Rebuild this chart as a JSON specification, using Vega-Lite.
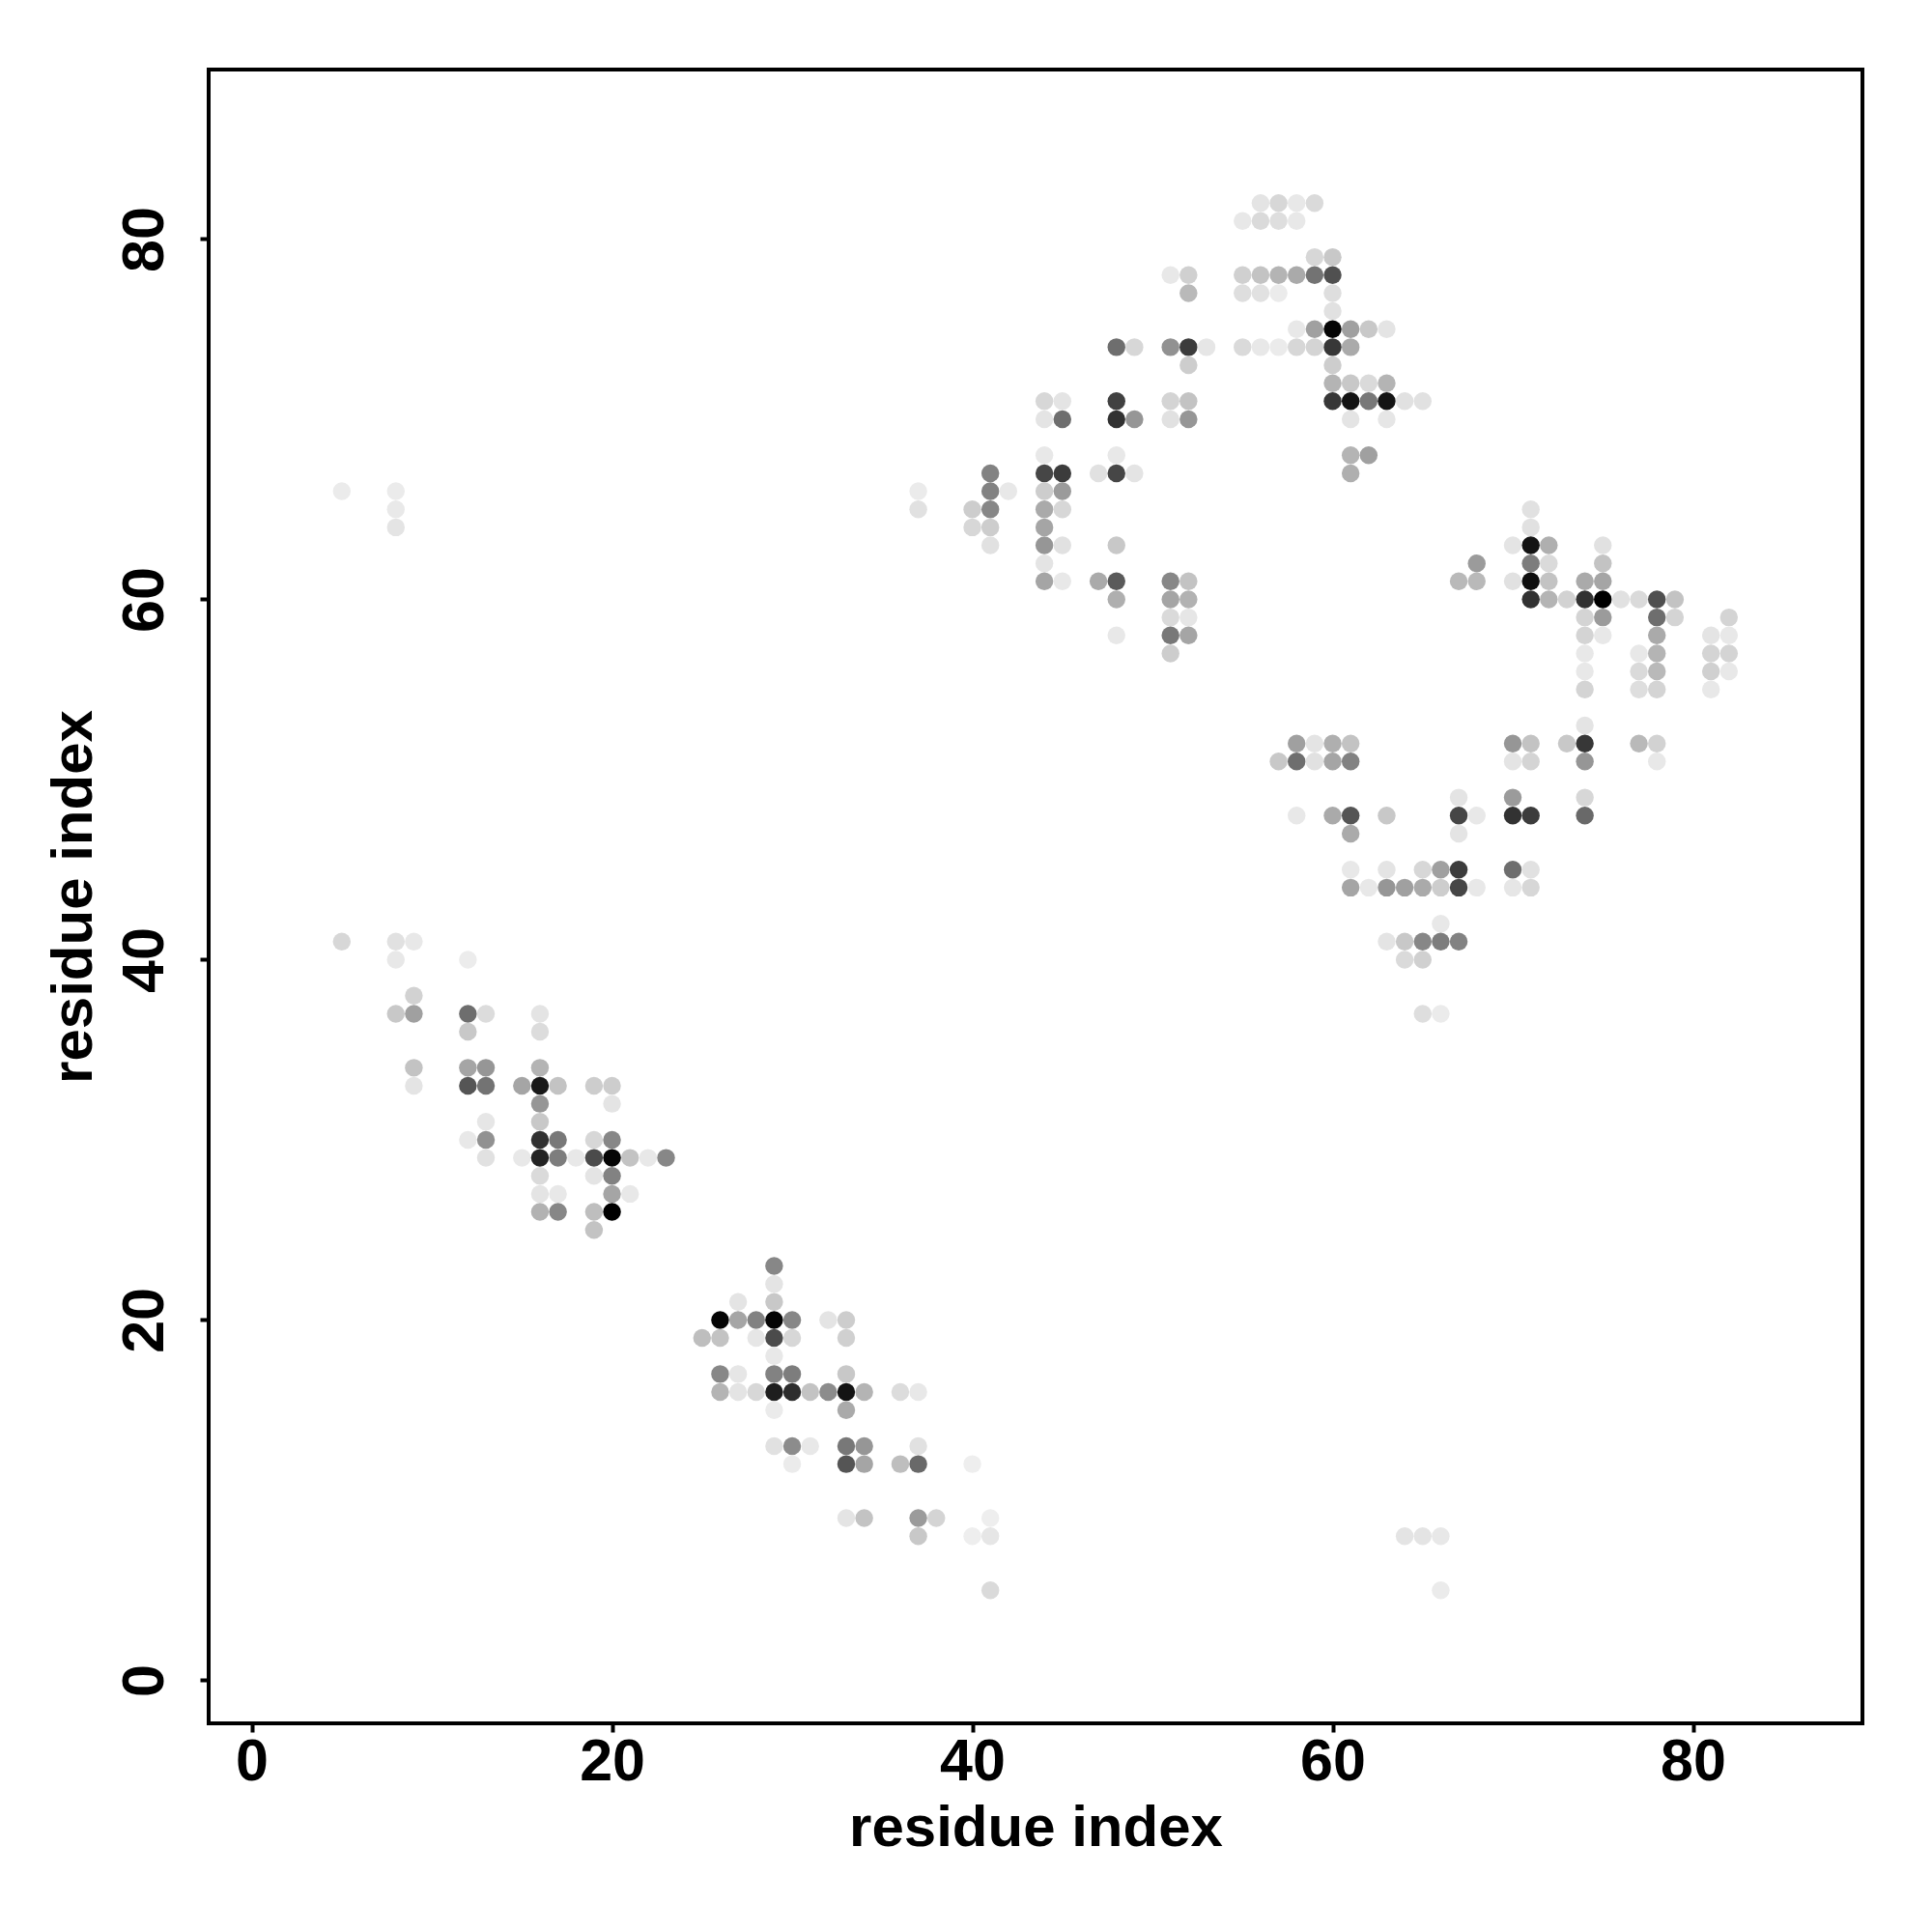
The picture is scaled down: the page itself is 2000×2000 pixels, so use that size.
{"$schema":"https://vega.github.io/schema/vega-lite/v6.json","width":1712,"height":1712,"autosize":{"type":"none"},"padding":{"left":216,"top":72,"right":72,"bottom":216},"background":"white","view":{"stroke":"#000","strokeWidth":4,"fill":"white"},"data":{"values":[
{"i":5,"j":41,"g":215},{"i":8,"j":41,"g":225},{"i":9,"j":41,"g":232},{"i":8,"j":40,"g":232},{"i":12,"j":40,"g":236},{"i":9,"j":38,"g":210},{"i":8,"j":37,"g":200},{"i":9,"j":37,"g":160},{"i":12,"j":37,"g":110},{"i":13,"j":37,"g":220},{"i":12,"j":36,"g":200},{"i":16,"j":37,"g":228},{"i":16,"j":36,"g":220},{"i":9,"j":34,"g":195},{"i":12,"j":34,"g":165},{"i":13,"j":34,"g":150},{"i":16,"j":34,"g":180},{"i":9,"j":33,"g":228},{"i":12,"j":33,"g":85},{"i":13,"j":33,"g":115},{"i":15,"j":33,"g":165},{"i":16,"j":33,"g":25},{"i":17,"j":33,"g":195},{"i":19,"j":33,"g":205},{"i":20,"j":33,"g":205},{"i":16,"j":32,"g":150},{"i":20,"j":32,"g":228},{"i":13,"j":31,"g":230},{"i":16,"j":31,"g":200},{"i":12,"j":30,"g":232},{"i":13,"j":30,"g":145},{"i":16,"j":30,"g":50},{"i":17,"j":30,"g":120},{"i":19,"j":30,"g":215},{"i":20,"j":30,"g":135},{"i":13,"j":29,"g":225},{"i":15,"j":29,"g":232},{"i":16,"j":29,"g":35},{"i":17,"j":29,"g":125},{"i":18,"j":29,"g":232},{"i":19,"j":29,"g":75},{"i":20,"j":29,"g":5},{"i":21,"j":29,"g":195},{"i":22,"j":29,"g":232},{"i":23,"j":29,"g":135},{"i":16,"j":28,"g":218},{"i":19,"j":28,"g":228},{"i":20,"j":28,"g":130},{"i":16,"j":27,"g":228},{"i":17,"j":27,"g":232},{"i":20,"j":27,"g":165},{"i":21,"j":27,"g":232},{"i":16,"j":26,"g":178},{"i":17,"j":26,"g":135},{"i":19,"j":26,"g":190},{"i":20,"j":26,"g":0},{"i":19,"j":25,"g":195},
{"i":29,"j":23,"g":135},{"i":29,"j":22,"g":228},{"i":27,"j":21,"g":228},{"i":29,"j":21,"g":200},{"i":26,"j":20,"g":5},{"i":27,"j":20,"g":165},{"i":28,"j":20,"g":130},{"i":29,"j":20,"g":5},{"i":30,"j":20,"g":135},{"i":32,"j":20,"g":228},{"i":33,"j":20,"g":205},{"i":25,"j":19,"g":190},{"i":26,"j":19,"g":195},{"i":28,"j":19,"g":230},{"i":29,"j":19,"g":75},{"i":30,"j":19,"g":215},{"i":33,"j":19,"g":208},{"i":29,"j":18,"g":232},{"i":26,"j":17,"g":135},{"i":27,"j":17,"g":230},{"i":29,"j":17,"g":130},{"i":30,"j":17,"g":125},{"i":33,"j":17,"g":200},{"i":26,"j":16,"g":180},{"i":27,"j":16,"g":228},{"i":28,"j":16,"g":215},{"i":29,"j":16,"g":30},{"i":30,"j":16,"g":45},{"i":31,"j":16,"g":195},{"i":32,"j":16,"g":140},{"i":33,"j":16,"g":20},{"i":34,"j":16,"g":180},{"i":36,"j":16,"g":220},{"i":37,"j":16,"g":232},{"i":29,"j":15,"g":235},{"i":33,"j":15,"g":170},{"i":29,"j":13,"g":225},{"i":30,"j":13,"g":140},{"i":31,"j":13,"g":232},{"i":33,"j":13,"g":120},{"i":34,"j":13,"g":150},{"i":37,"j":13,"g":225},{"i":30,"j":12,"g":235},{"i":33,"j":12,"g":85},{"i":34,"j":12,"g":165},{"i":36,"j":12,"g":190},{"i":37,"j":12,"g":105},{"i":40,"j":12,"g":238},{"i":33,"j":9,"g":228},{"i":34,"j":9,"g":195},{"i":37,"j":9,"g":155},{"i":38,"j":9,"g":212},{"i":41,"j":9,"g":238},{"i":37,"j":8,"g":200},{"i":40,"j":8,"g":238},{"i":41,"j":8,"g":230},{"i":41,"j":5,"g":218},{"i":64,"j":8,"g":228},{"i":65,"j":8,"g":228},{"i":66,"j":8,"g":232},{"i":66,"j":5,"g":235},
{"i":5,"j":66,"g":235},{"i":8,"j":66,"g":235},{"i":8,"j":65,"g":233},{"i":8,"j":64,"g":228},
{"i":44,"j":71,"g":215},{"i":45,"j":71,"g":228},{"i":48,"j":71,"g":65},{"i":51,"j":71,"g":212},{"i":52,"j":71,"g":195},{"i":44,"j":70,"g":228},{"i":45,"j":70,"g":110},{"i":48,"j":70,"g":50},{"i":49,"j":70,"g":150},{"i":51,"j":70,"g":225},{"i":52,"j":70,"g":150},{"i":44,"j":68,"g":232},{"i":48,"j":68,"g":232},{"i":41,"j":67,"g":130},{"i":44,"j":67,"g":70},{"i":45,"j":67,"g":60},{"i":47,"j":67,"g":225},{"i":48,"j":67,"g":70},{"i":49,"j":67,"g":228},{"i":37,"j":66,"g":235},{"i":41,"j":66,"g":130},{"i":42,"j":66,"g":232},{"i":44,"j":66,"g":205},{"i":45,"j":66,"g":155},{"i":37,"j":65,"g":225},{"i":40,"j":65,"g":205},{"i":41,"j":65,"g":135},{"i":44,"j":65,"g":170},{"i":45,"j":65,"g":215},{"i":40,"j":64,"g":215},{"i":41,"j":64,"g":205},{"i":44,"j":64,"g":165},{"i":41,"j":63,"g":225},{"i":44,"j":63,"g":150},{"i":45,"j":63,"g":225},{"i":48,"j":63,"g":200},{"i":44,"j":62,"g":228},{"i":44,"j":61,"g":165},{"i":45,"j":61,"g":232},{"i":47,"j":61,"g":170},{"i":48,"j":61,"g":90},{"i":51,"j":61,"g":135},{"i":52,"j":61,"g":195},{"i":48,"j":60,"g":175},{"i":51,"j":60,"g":165},{"i":52,"j":60,"g":178},{"i":51,"j":59,"g":218},{"i":52,"j":59,"g":230},{"i":48,"j":58,"g":232},{"i":51,"j":58,"g":120},{"i":52,"j":58,"g":165},{"i":51,"j":57,"g":205},
{"i":51,"j":78,"g":232},{"i":52,"j":78,"g":208},{"i":52,"j":77,"g":185},{"i":48,"j":74,"g":110},{"i":49,"j":74,"g":215},{"i":51,"j":74,"g":145},{"i":52,"j":74,"g":60},{"i":53,"j":74,"g":230},{"i":52,"j":73,"g":205},
{"i":56,"j":82,"g":228},{"i":57,"j":82,"g":215},{"i":58,"j":82,"g":232},{"i":59,"j":82,"g":218},{"i":55,"j":81,"g":232},{"i":56,"j":81,"g":218},{"i":57,"j":81,"g":222},{"i":58,"j":81,"g":232},{"i":59,"j":79,"g":215},{"i":60,"j":79,"g":200},{"i":55,"j":78,"g":208},{"i":56,"j":78,"g":195},{"i":57,"j":78,"g":180},{"i":58,"j":78,"g":170},{"i":59,"j":78,"g":115},{"i":60,"j":78,"g":80},{"i":55,"j":77,"g":222},{"i":56,"j":77,"g":225},{"i":57,"j":77,"g":235},{"i":60,"j":77,"g":222},{"i":60,"j":76,"g":225},{"i":58,"j":75,"g":232},{"i":59,"j":75,"g":160},{"i":60,"j":75,"g":5},{"i":61,"j":75,"g":160},{"i":62,"j":75,"g":200},{"i":63,"j":75,"g":228},{"i":55,"j":74,"g":218},{"i":56,"j":74,"g":232},{"i":57,"j":74,"g":235},{"i":58,"j":74,"g":215},{"i":59,"j":74,"g":212},{"i":60,"j":74,"g":55},{"i":61,"j":74,"g":170},{"i":60,"j":73,"g":205},{"i":60,"j":72,"g":180},{"i":61,"j":72,"g":200},{"i":62,"j":72,"g":218},{"i":63,"j":72,"g":180},{"i":60,"j":71,"g":55},{"i":61,"j":71,"g":20},{"i":62,"j":71,"g":120},{"i":63,"j":71,"g":20},{"i":64,"j":71,"g":225},{"i":65,"j":71,"g":225},{"i":61,"j":70,"g":228},{"i":63,"j":70,"g":230},{"i":61,"j":68,"g":180},{"i":62,"j":68,"g":160},{"i":61,"j":67,"g":175},
{"i":74,"j":53,"g":228},{"i":58,"j":52,"g":160},{"i":59,"j":52,"g":228},{"i":60,"j":52,"g":175},{"i":61,"j":52,"g":195},{"i":70,"j":52,"g":150},{"i":71,"j":52,"g":195},{"i":73,"j":52,"g":200},{"i":74,"j":52,"g":55},{"i":77,"j":52,"g":185},{"i":78,"j":52,"g":210},{"i":57,"j":51,"g":200},{"i":58,"j":51,"g":110},{"i":59,"j":51,"g":225},{"i":60,"j":51,"g":165},{"i":61,"j":51,"g":130},{"i":70,"j":51,"g":228},{"i":71,"j":51,"g":212},{"i":74,"j":51,"g":150},{"i":78,"j":51,"g":232},{"i":67,"j":49,"g":228},{"i":70,"j":49,"g":155},{"i":74,"j":49,"g":215},{"i":58,"j":48,"g":232},{"i":60,"j":48,"g":170},{"i":61,"j":48,"g":85},{"i":63,"j":48,"g":200},{"i":67,"j":48,"g":70},{"i":68,"j":48,"g":232},{"i":70,"j":48,"g":50},{"i":71,"j":48,"g":60},{"i":74,"j":48,"g":105},{"i":61,"j":47,"g":170},{"i":67,"j":47,"g":228},{"i":61,"j":45,"g":232},{"i":63,"j":45,"g":228},{"i":65,"j":45,"g":215},{"i":66,"j":45,"g":160},{"i":67,"j":45,"g":60},{"i":70,"j":45,"g":110},{"i":71,"j":45,"g":225},{"i":61,"j":44,"g":165},{"i":62,"j":44,"g":232},{"i":63,"j":44,"g":150},{"i":64,"j":44,"g":160},{"i":65,"j":44,"g":170},{"i":66,"j":44,"g":205},{"i":67,"j":44,"g":70},{"i":68,"j":44,"g":232},{"i":70,"j":44,"g":230},{"i":71,"j":44,"g":215},{"i":66,"j":42,"g":232},{"i":63,"j":41,"g":228},{"i":64,"j":41,"g":200},{"i":65,"j":41,"g":135},{"i":66,"j":41,"g":125},{"i":67,"j":41,"g":130},{"i":64,"j":40,"g":218},{"i":65,"j":40,"g":208},{"i":65,"j":37,"g":222},{"i":66,"j":37,"g":235},
{"i":71,"j":65,"g":225},{"i":71,"j":64,"g":225},{"i":70,"j":63,"g":228},{"i":71,"j":63,"g":20},{"i":72,"j":63,"g":175},{"i":75,"j":63,"g":225},{"i":68,"j":62,"g":155},{"i":71,"j":62,"g":125},{"i":72,"j":62,"g":218},{"i":75,"j":62,"g":195},{"i":67,"j":61,"g":185},{"i":68,"j":61,"g":185},{"i":70,"j":61,"g":225},{"i":71,"j":61,"g":15},{"i":72,"j":61,"g":195},{"i":74,"j":61,"g":170},{"i":75,"j":61,"g":165},{"i":71,"j":60,"g":50},{"i":72,"j":60,"g":180},{"i":73,"j":60,"g":210},{"i":74,"j":60,"g":50},{"i":75,"j":60,"g":0},{"i":76,"j":60,"g":225},{"i":77,"j":60,"g":218},{"i":78,"j":60,"g":80},{"i":79,"j":60,"g":195},{"i":74,"j":59,"g":212},{"i":75,"j":59,"g":155},{"i":78,"j":59,"g":110},{"i":79,"j":59,"g":212},{"i":82,"j":59,"g":212},{"i":74,"j":58,"g":212},{"i":75,"j":58,"g":232},{"i":78,"j":58,"g":170},{"i":81,"j":58,"g":228},{"i":82,"j":58,"g":232},{"i":74,"j":57,"g":232},{"i":77,"j":57,"g":232},{"i":78,"j":57,"g":180},{"i":81,"j":57,"g":212},{"i":82,"j":57,"g":212},{"i":74,"j":56,"g":232},{"i":77,"j":56,"g":218},{"i":78,"j":56,"g":185},{"i":81,"j":56,"g":208},{"i":82,"j":56,"g":232},{"i":74,"j":55,"g":212},{"i":77,"j":55,"g":222},{"i":78,"j":55,"g":212},{"i":81,"j":55,"g":232}
]},
"mark":{"type":"point","shape":"circle","filled":true,"opacity":1,"size":340},
"encoding":{
"x":{"field":"i","type":"quantitative","scale":{"domain":[-2.39,89.41],"nice":false,"zero":false},"axis":{"title":"residue index","values":[0,20,40,60,80],"grid":false,"domain":false,"ticks":true,"tickSize":9,"tickWidth":4,"tickColor":"#000","labelFont":"Liberation Sans","labelFontWeight":"bold","labelFontSize":61,"labelColor":"#000","labelPadding":1,"titleFont":"Liberation Sans","titleFontWeight":"bold","titleFontSize":60,"titleColor":"#000","titleBaseline":"alphabetic","titlePadding":56}},
"y":{"field":"j","type":"quantitative","scale":{"domain":[-2.39,89.41],"nice":false,"zero":false},"axis":{"title":"residue index","values":[0,20,40,60,80],"grid":false,"domain":false,"ticks":true,"tickSize":9,"tickWidth":4,"tickColor":"#000","labelFont":"Liberation Sans","labelFontWeight":"bold","labelFontSize":61,"labelColor":"#000","labelAngle":-90,"labelAlign":"center","labelBaseline":"bottom","labelPadding":26,"titleFont":"Liberation Sans","titleFontWeight":"bold","titleFontSize":60,"titleColor":"#000","titlePadding":12}},
"color":{"field":"g","type":"quantitative","scale":{"domain":[0,255],"range":["#000000","#ffffff"],"interpolate":"rgb"},"legend":null}
}}
